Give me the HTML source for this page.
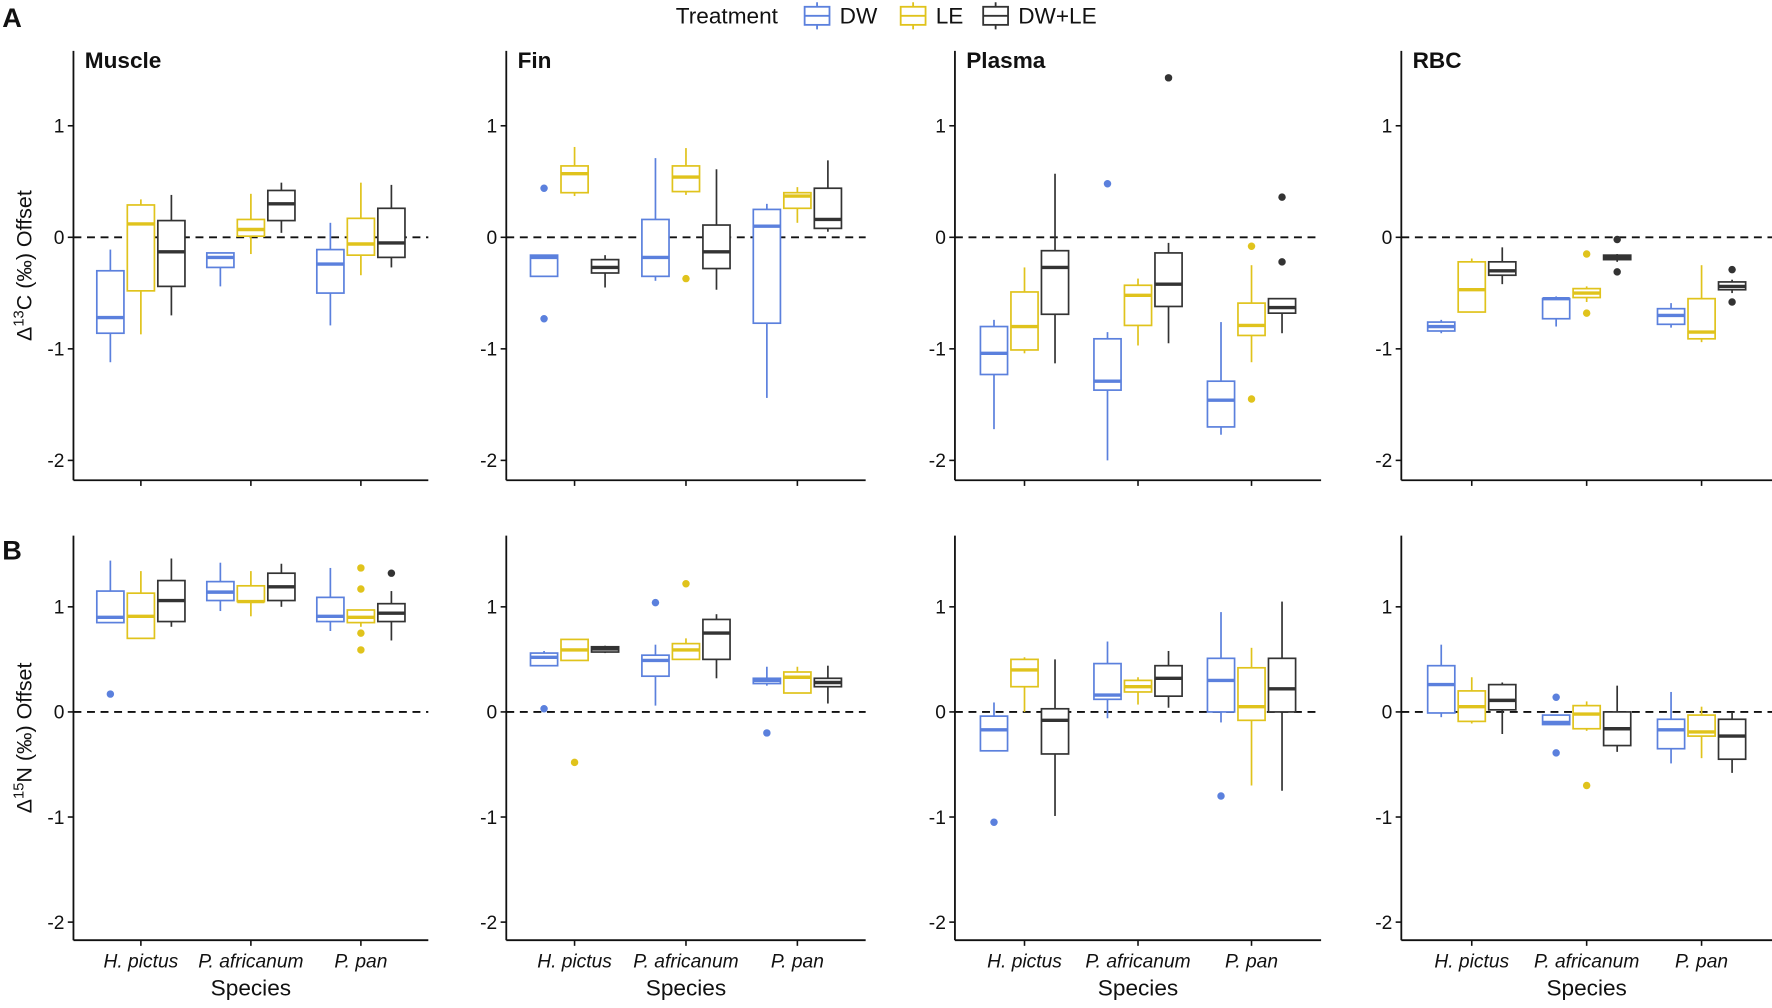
<!DOCTYPE html>
<html><head><meta charset="utf-8"><style>
html,body{margin:0;padding:0;background:#fff;}
svg{display:block;}
text{font-family:"Liberation Sans",sans-serif;fill:#111;}
</style></head><body>
<svg id="s" width="1772" height="1008" viewBox="0 0 1568 892" preserveAspectRatio="none" xmlns="http://www.w3.org/2000/svg">
<rect width="1568" height="892" fill="#fff"/>
<text x="2" y="24" font-size="24" font-weight="bold">A</text>
<text x="2" y="495" font-size="24" font-weight="bold">B</text>
<text x="598" y="21" font-size="20">Treatment</text>
<g stroke-width="1.6" fill="none">
<rect x="712" y="6" width="22" height="16" stroke="#5b80dd"/><line x1="712" y1="14" x2="734" y2="14" stroke="#5b80dd"/><line x1="723" y1="2" x2="723" y2="6" stroke="#5b80dd"/><line x1="723" y1="22" x2="723" y2="26" stroke="#5b80dd"/>
<rect x="797" y="6" width="22" height="16" stroke="#e0c31c"/><line x1="797" y1="14" x2="819" y2="14" stroke="#e0c31c"/><line x1="808" y1="2" x2="808" y2="6" stroke="#e0c31c"/><line x1="808" y1="22" x2="808" y2="26" stroke="#e0c31c"/>
<rect x="981" y="6" width="1" height="1" stroke="none"/>
<rect x="870" y="6" width="22" height="16" stroke="#333"/><line x1="870" y1="14" x2="892" y2="14" stroke="#333"/><line x1="881" y1="2" x2="881" y2="6" stroke="#333"/><line x1="881" y1="22" x2="881" y2="26" stroke="#333"/>
</g>
<text x="743" y="21" font-size="20">DW</text>
<text x="828" y="21" font-size="20">LE</text>
<text x="901" y="21" font-size="20">DW+LE</text>
</svg>
<script>
const S=document.getElementById('s');const NS='http://www.w3.org/2000/svg';
function el(t,a,txt){const e=document.createElementNS(NS,t);for(const k in a)e.setAttribute(k,a[k]);if(txt!==undefined)e.textContent=txt;S.appendChild(e);return e;}
const C=['#5b80dd','#e0c31c','#333333'];
const panels=[{x:65,w:314,t:'Muscle'},{x:448,w:318,t:'Fin'},{x:845,w:324,t:'Plasma'},{x:1240,w:328,t:'RBC'}];
const rows=[{top:45,bot:425,z:210,u:98.7},{top:474,bot:832,z:630,u:93}];
// [top,q3,med,q1,low,[outliers]]
const D=[
[ // row A
 [[[-0.11,-0.30,-0.72,-0.86,-1.12],[0.34,0.29,0.12,-0.48,-0.87],[0.38,0.15,-0.13,-0.44,-0.70]],
  [[-0.14,-0.14,-0.18,-0.27,-0.44],[0.39,0.16,0.07,0.01,-0.15],[0.49,0.42,0.30,0.15,0.04]],
  [[0.13,-0.11,-0.24,-0.50,-0.79],[0.49,0.17,-0.06,-0.16,-0.34],[0.47,0.26,-0.05,-0.18,-0.27]]],
 [[[-0.16,-0.16,-0.18,-0.35,-0.35,[0.44,-0.73]],[0.81,0.64,0.57,0.40,0.37],[-0.16,-0.2,-0.27,-0.32,-0.45]],
  [[0.71,0.16,-0.18,-0.35,-0.39],[0.8,0.64,0.54,0.41,0.38,[-0.37]],[0.61,0.11,-0.13,-0.28,-0.47]],
  [[0.3,0.25,0.1,-0.77,-1.44],[0.45,0.4,0.37,0.26,0.13],[0.69,0.44,0.16,0.08,0.05]]],
 [[[-0.74,-0.8,-1.04,-1.23,-1.72],[-0.27,-0.49,-0.8,-1.01,-1.04],[0.57,-0.12,-0.27,-0.69,-1.13]],
  [[-0.85,-0.91,-1.29,-1.37,-2.0,[0.48]],[-0.37,-0.43,-0.52,-0.79,-0.97],[-0.05,-0.14,-0.42,-0.62,-0.95,[1.43]]],
  [[-0.76,-1.29,-1.46,-1.7,-1.77],[-0.25,-0.59,-0.79,-0.88,-1.12,[-0.08,-1.45]],[-0.55,-0.55,-0.63,-0.68,-0.86,[0.36,-0.22]]]],
 [[[-0.74,-0.76,-0.8,-0.84,-0.86],[-0.19,-0.22,-0.47,-0.67,-0.67],[-0.09,-0.22,-0.3,-0.34,-0.42]],
  [[-0.53,-0.55,-0.55,-0.73,-0.8],[-0.44,-0.46,-0.5,-0.54,-0.58,[-0.15,-0.68]],[-0.15,-0.16,-0.18,-0.2,-0.22,[-0.02,-0.31]]],
  [[-0.59,-0.64,-0.7,-0.78,-0.81],[-0.25,-0.55,-0.85,-0.91,-0.94],[-0.38,-0.4,-0.44,-0.47,-0.5,[-0.29,-0.58]]]]
],
[ // row B
 [[[1.44,1.15,0.9,0.85,0.85,[0.17]],[1.34,1.13,0.91,0.7,0.7],[1.46,1.25,1.06,0.86,0.81]],
  [[1.42,1.24,1.14,1.06,0.96],[1.34,1.2,1.05,1.05,0.91],[1.41,1.32,1.19,1.06,1.0]],
  [[1.37,1.09,0.91,0.86,0.77],[0.97,0.97,0.9,0.85,0.81,[1.37,1.17,0.75,0.59]],[1.15,1.03,0.94,0.86,0.68,[1.32]]]],
 [[[0.58,0.56,0.52,0.44,0.44,[0.03]],[0.69,0.69,0.59,0.49,0.49,[-0.48]],[0.63,0.62,0.6,0.57,0.56]],
  [[0.64,0.54,0.49,0.34,0.06,[1.04]],[0.7,0.65,0.59,0.5,0.5,[1.22]],[0.93,0.88,0.75,0.5,0.32]],
  [[0.43,0.32,0.3,0.27,0.25,[-0.2]],[0.43,0.38,0.33,0.18,0.18],[0.44,0.32,0.28,0.24,0.08]]],
 [[[0.09,-0.04,-0.17,-0.37,-0.37,[-1.05]],[0.52,0.5,0.4,0.24,0.0],[0.5,0.03,-0.08,-0.4,-0.99]],
  [[0.67,0.46,0.16,0.12,-0.06],[0.33,0.3,0.24,0.19,0.07],[0.58,0.44,0.32,0.15,0.04]],
  [[0.95,0.51,0.3,0.0,-0.1,[-0.8]],[0.61,0.42,0.05,-0.08,-0.7],[1.05,0.51,0.22,0.0,-0.75]]],
 [[[0.64,0.44,0.26,-0.01,-0.05],[0.33,0.2,0.05,-0.09,-0.11],[0.28,0.26,0.11,0.02,-0.21]],
  [[-0.03,-0.03,-0.1,-0.12,-0.12,[0.14,-0.39]],[0.1,0.06,-0.02,-0.16,-0.18,[-0.7]],[0.25,0.0,-0.16,-0.32,-0.38]],
  [[0.19,-0.07,-0.17,-0.35,-0.49],[0.05,-0.03,-0.19,-0.23,-0.44],[0.0,-0.07,-0.23,-0.45,-0.58]]]
]];
const sp=['H. pictus','P. africanum','P. pan'];
rows.forEach((r,ri)=>{
 const Y=v=>r.z-v*r.u;
 panels.forEach((p,pi)=>{
  const x0=p.x,x1=p.x+p.w;
  el('line',{x1:x0,y1:r.top,x2:x0,y2:r.bot,stroke:'#111','stroke-width':1.6});
  el('line',{x1:x0,y1:r.bot,x2:x1,y2:r.bot,stroke:'#111','stroke-width':1.6});
  [1,0,-1,-2].forEach(v=>{el('line',{x1:x0-5,y1:Y(v),x2:x0,y2:Y(v),stroke:'#111','stroke-width':1.4});
   el('text',{x:x0-8,y:Y(v)+6,'font-size':17,'text-anchor':'end',fill:'#333'},v);});
  el('line',{x1:x0,y1:Y(0),x2:x1,y2:Y(0),stroke:'#111','stroke-width':1.6,'stroke-dasharray':'7,5'});
  if(ri==0) el('text',{x:x0+10,y:60,'font-size':20,'font-weight':'bold'},p.t);
  [0.19,0.5,0.81].forEach((f,si)=>{
   const cx=x0+f*p.w;
   el('line',{x1:cx,y1:r.bot,x2:cx,y2:r.bot+5,stroke:'#111','stroke-width':1.4});
   if(ri==1) el('text',{x:cx,y:856,'font-size':17,'font-style':'italic','text-anchor':'middle',fill:'#222'},sp[si]);
   D[ri][pi][si].forEach((b,ti)=>{
    const bx=cx+(ti-1)*27,c=C[ti],hw=12;
    el('line',{x1:bx,y1:Y(b[0]),x2:bx,y2:Y(b[1]),stroke:c,'stroke-width':1.5});
    el('line',{x1:bx,y1:Y(b[3]),x2:bx,y2:Y(b[4]),stroke:c,'stroke-width':1.5});
    el('rect',{x:bx-hw,y:Y(b[1]),width:2*hw,height:Math.max(Y(b[3])-Y(b[1]),0.5),fill:'#fff',stroke:c,'stroke-width':1.5});
    el('line',{x1:bx-hw,y1:Y(b[2]),x2:bx+hw,y2:Y(b[2]),stroke:c,'stroke-width':3});
    (b[5]||[]).forEach(o=>el('circle',{cx:bx,cy:Y(o),r:3.3,fill:c}));
   });
  });
  if(ri==1) el('text',{x:x0+p.w/2,y:881,'font-size':20,'text-anchor':'middle'},'Species');
 });
 const cy=(r.top+r.bot)/2;
 const t=el('text',{transform:`translate(28,${cy}) rotate(-90)`,'font-size':19,'text-anchor':'middle'});
 t.innerHTML='Δ<tspan dy="-7" font-size="13">'+(ri==0?'13':'15')+'</tspan><tspan dy="7">'+(ri==0?'C':'N')+' (‰) Offset</tspan>';
});
</script>
</body></html>
